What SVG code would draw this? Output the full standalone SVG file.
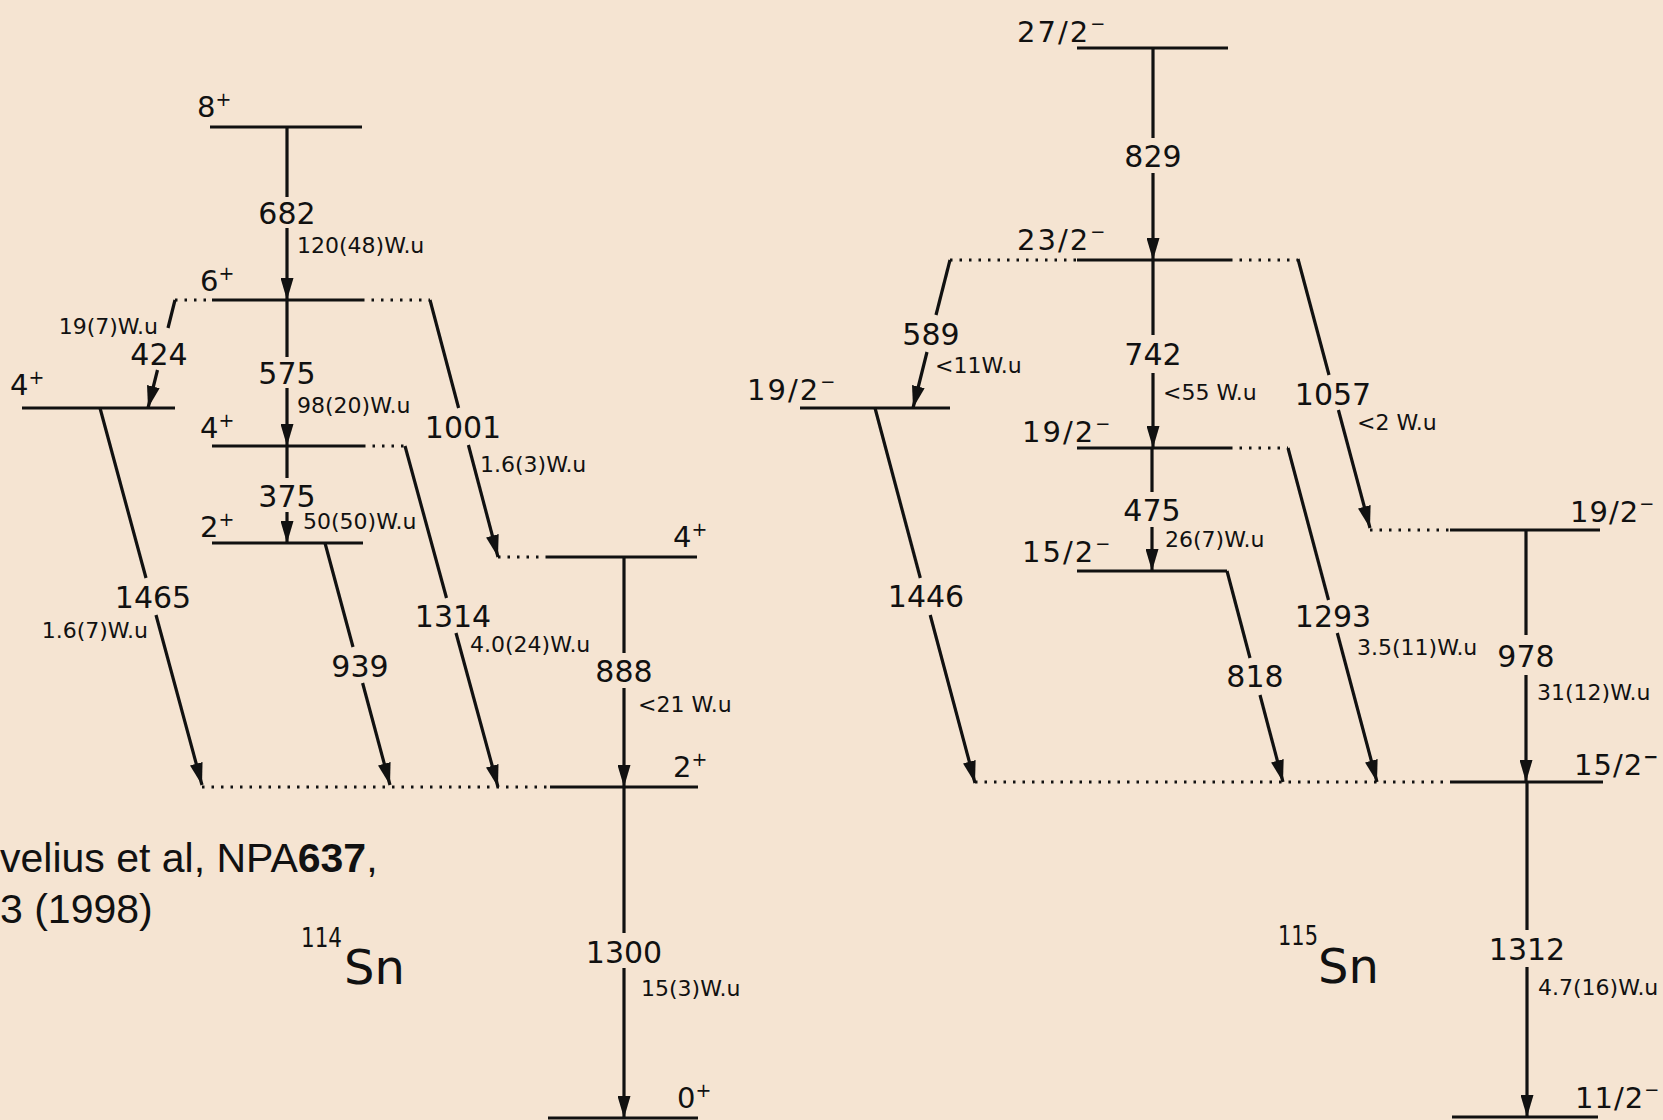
<svg xmlns="http://www.w3.org/2000/svg" width="1663" height="1120" viewBox="0 0 1663 1120">
<style>
.lv{stroke:#111;stroke-width:2.8;fill:none}
.dt{stroke:#111;stroke-width:2.8;fill:none;stroke-dasharray:2.5 7}
.ar{stroke:#111;stroke-width:3.2;fill:none}
.lab{font-family:"DejaVu Sans",sans-serif;font-size:29px;fill:#111}
.big{font-family:"DejaVu Sans",sans-serif;font-size:30px;fill:#111;text-anchor:middle}
.sm{font-family:"DejaVu Sans",sans-serif;font-size:22px;fill:#111}
.sp{letter-spacing:2px}
.sp1{letter-spacing:1px}
.sup{font-family:"DejaVu Sans",sans-serif;font-size:27px;fill:#111}
.sn{font-family:"DejaVu Sans",sans-serif;font-size:48px;fill:#111}
.cit{font-family:"Liberation Sans",Arial,sans-serif;font-size:41px;fill:#111}
</style>
<defs>
<marker id="ah" markerUnits="userSpaceOnUse" viewBox="0 0 22 13" refX="22" refY="6.5" markerWidth="22" markerHeight="13" orient="auto">
<path d="M0,0 L22,6.5 L0,13 Z" fill="#111"/>
</marker>
</defs>
<rect width="1663" height="1120" fill="#F5E4D2"/>

<!-- 114Sn levels -->
<g id="sn114-8plus"><line class="lv" x1="210" y1="127" x2="362" y2="127"/><text class="lab" x="197" y="117">8<tspan dy="-11" font-size="19">+</tspan></text></g>
<g id="sn114-6plus"><line class="dt" x1="175" y1="300" x2="212" y2="300"/><line class="lv" x1="212" y1="300" x2="362" y2="300"/><line class="dt" x1="362" y1="300" x2="430" y2="300"/><text class="lab" x="200" y="291">6<tspan dy="-11" font-size="19">+</tspan></text></g>
<g id="sn114-4plus-left"><line class="lv" x1="22" y1="408" x2="175" y2="408"/><text class="lab" x="10" y="395">4<tspan dy="-11" font-size="19">+</tspan></text></g>
<g id="sn114-4plus-mid"><line class="lv" x1="212" y1="446" x2="363" y2="446"/><line class="dt" x1="363" y1="446" x2="405" y2="446"/><text class="lab" x="200" y="438">4<tspan dy="-11" font-size="19">+</tspan></text></g>
<g id="sn114-2plus-mid"><line class="lv" x1="212" y1="543" x2="363" y2="543"/><text class="lab" x="200" y="537">2<tspan dy="-11" font-size="19">+</tspan></text></g>
<g id="sn114-4plus-right"><line class="dt" x1="498" y1="557" x2="547" y2="557"/><line class="lv" x1="547" y1="557" x2="697" y2="557"/><text class="lab" x="673" y="547">4<tspan dy="-11" font-size="19">+</tspan></text></g>
<g id="sn114-2plus"><line class="dt" x1="202" y1="787" x2="550" y2="787"/><line class="lv" x1="550" y1="787" x2="698" y2="787"/><text class="lab" x="673" y="777">2<tspan dy="-11" font-size="19">+</tspan></text></g>
<g id="sn114-0plus"><line class="lv" x1="548" y1="1118" x2="698" y2="1118"/><text class="lab" x="677" y="1108">0<tspan dy="-11" font-size="19">+</tspan></text></g>

<!-- 115Sn levels -->
<g id="sn115-27-2"><line class="lv" x1="1077" y1="48" x2="1228" y2="48"/><text class="lab sp" x="1017" y="42">27/2<tspan dy="-12" font-size="18">−</tspan></text></g>
<g id="sn115-23-2"><line class="dt" x1="950" y1="260" x2="1077" y2="260"/><line class="lv" x1="1077" y1="260" x2="1230" y2="260"/><line class="dt" x1="1230" y1="260" x2="1298" y2="260"/><text class="lab sp" x="1017" y="250">23/2<tspan dy="-12" font-size="18">−</tspan></text></g>
<g id="sn115-19-2-left"><line class="lv" x1="800" y1="408" x2="950" y2="408"/><text class="lab sp" x="747" y="400">19/2<tspan dy="-12" font-size="18">−</tspan></text></g>
<g id="sn115-19-2-mid"><line class="lv" x1="1077" y1="448" x2="1230" y2="448"/><line class="dt" x1="1230" y1="448" x2="1288" y2="448"/><text class="lab sp" x="1022" y="442">19/2<tspan dy="-12" font-size="18">−</tspan></text></g>
<g id="sn115-15-2-mid"><line class="lv" x1="1077" y1="571" x2="1227" y2="571"/><text class="lab sp" x="1022" y="562">15/2<tspan dy="-12" font-size="18">−</tspan></text></g>
<g id="sn115-19-2-right"><line class="dt" x1="1370" y1="530" x2="1450" y2="530"/><line class="lv" x1="1450" y1="530" x2="1600" y2="530"/><text class="lab sp1" x="1570" y="522">19/2<tspan dy="-12" font-size="18">−</tspan></text></g>
<g id="sn115-15-2"><line class="dt" x1="975" y1="782" x2="1450" y2="782"/><line class="lv" x1="1450" y1="782" x2="1603" y2="782"/><text class="lab sp1" x="1574" y="775">15/2<tspan dy="-12" font-size="18" font-weight="bold">−</tspan></text></g>
<g id="sn115-11-2"><line class="lv" x1="1452" y1="1117" x2="1598" y2="1117"/><text class="lab sp1" x="1575" y="1108">11/2<tspan dy="-12" font-size="18">−</tspan></text></g>

<!-- connectors (gamma transitions) -->
<g id="connectors">
<!-- 114Sn -->
<line class="ar" x1="287" y1="127" x2="287" y2="197"/><line class="ar" x1="287" y1="228" x2="287" y2="300" marker-end="url(#ah)"/>
<line class="ar" x1="287" y1="300" x2="287" y2="357"/><line class="ar" x1="287" y1="388" x2="287" y2="446" marker-end="url(#ah)"/>
<line class="ar" x1="287" y1="446" x2="287" y2="478"/><line class="ar" x1="287" y1="512" x2="287" y2="543" marker-end="url(#ah)"/>
<line class="ar" x1="175" y1="300" x2="168" y2="328"/><line class="ar" x1="157.5" y1="370" x2="148" y2="408" marker-end="url(#ah)"/>
<line class="ar" x1="100" y1="408" x2="146" y2="578"/><line class="ar" x1="156" y1="615" x2="202" y2="785" marker-end="url(#ah)"/>
<line class="ar" x1="325" y1="543" x2="353" y2="647"/><line class="ar" x1="362.6" y1="683" x2="390" y2="785" marker-end="url(#ah)"/>
<line class="ar" x1="430" y1="300" x2="458.6" y2="408"/><line class="ar" x1="468.4" y1="445" x2="498" y2="557" marker-end="url(#ah)"/>
<line class="ar" x1="405" y1="446" x2="446.5" y2="598"/><line class="ar" x1="456" y1="633" x2="498" y2="787" marker-end="url(#ah)"/>
<line class="ar" x1="624" y1="557" x2="624" y2="653"/><line class="ar" x1="624" y1="688" x2="624" y2="787" marker-end="url(#ah)"/>
<line class="ar" x1="624" y1="787" x2="624" y2="933"/><line class="ar" x1="624" y1="968" x2="624" y2="1118" marker-end="url(#ah)"/>
<!-- 115Sn -->
<line class="ar" x1="1153" y1="48" x2="1153" y2="138"/><line class="ar" x1="1153" y1="173" x2="1153" y2="260" marker-end="url(#ah)"/>
<line class="ar" x1="1153" y1="260" x2="1153" y2="335"/><line class="ar" x1="1153" y1="373" x2="1153" y2="448" marker-end="url(#ah)"/>
<line class="ar" x1="1152" y1="448" x2="1152" y2="492"/><line class="ar" x1="1152" y1="527" x2="1152" y2="571" marker-end="url(#ah)"/>
<line class="ar" x1="950" y1="260" x2="936" y2="315"/><line class="ar" x1="927" y1="352" x2="913" y2="408" marker-end="url(#ah)"/>
<line class="ar" x1="1298" y1="259" x2="1329" y2="375"/><line class="ar" x1="1338.4" y1="410" x2="1370" y2="528" marker-end="url(#ah)"/>
<line class="ar" x1="875" y1="408" x2="920.3" y2="578"/><line class="ar" x1="930.2" y1="615" x2="975" y2="783" marker-end="url(#ah)"/>
<line class="ar" x1="1227" y1="571" x2="1250" y2="658"/><line class="ar" x1="1260" y1="695" x2="1283" y2="782" marker-end="url(#ah)"/>
<line class="ar" x1="1288" y1="448" x2="1328.5" y2="600"/><line class="ar" x1="1337.3" y1="633" x2="1377" y2="782" marker-end="url(#ah)"/>
<line class="ar" x1="1526" y1="530" x2="1526" y2="635"/><line class="ar" x1="1526" y1="675" x2="1526" y2="782" marker-end="url(#ah)"/>
<line class="ar" x1="1527" y1="782" x2="1527" y2="930"/><line class="ar" x1="1527" y1="967" x2="1527" y2="1117" marker-end="url(#ah)"/>
</g>

<g id="transition-labels">
<text class="big" x="287" y="224">682</text><text class="sm" x="297" y="253">120(48)W.u</text>
<text class="big" x="287" y="384">575</text><text class="sm" x="297" y="413">98(20)W.u</text>
<text class="big" x="287" y="507">375</text><text class="sm" x="303" y="529">50(50)W.u</text>
<text class="big" x="159" y="365">424</text><text class="sm" x="158" y="334" text-anchor="end">19(7)W.u</text>
<text class="big" x="153" y="608">1465</text><text class="sm" x="148" y="638" text-anchor="end">1.6(7)W.u</text>
<text class="big" x="360" y="677">939</text>
<text class="big" x="463" y="438">1001</text><text class="sm" x="480" y="472">1.6(3)W.u</text>
<text class="big" x="453" y="627">1314</text><text class="sm" x="470" y="652">4.0(24)W.u</text>
<text class="big" x="624" y="682">888</text><text class="sm" x="638" y="712">&lt;21 W.u</text>
<text class="big" x="624" y="963">1300</text><text class="sm" x="641" y="996">15(3)W.u</text>

<text class="big" x="1153" y="167">829</text>
<text class="big" x="1153" y="365">742</text><text class="sm" x="1163" y="400">&lt;55 W.u</text>
<text class="big" x="1152" y="521">475</text><text class="sm" x="1165" y="547">26(7)W.u</text>
<text class="big" x="931" y="345">589</text><text class="sm" x="935" y="373">&lt;11W.u</text>
<text class="big" x="1333" y="405">1057</text><text class="sm" x="1357" y="430">&lt;2 W.u</text>
<text class="big" x="926" y="607">1446</text>
<text class="big" x="1255" y="687">818</text>
<text class="big" x="1333" y="627">1293</text><text class="sm" x="1357" y="655">3.5(11)W.u</text>
<text class="big" x="1526" y="667">978</text><text class="sm" x="1537" y="700">31(12)W.u</text>
<text class="big" x="1527" y="960">1312</text><text class="sm" x="1538" y="995">4.7(16)W.u</text>
</g>

<g id="isotope-114">
<text class="sup" x="301" y="947" textLength="41" lengthAdjust="spacingAndGlyphs">114</text>
<text class="sn" x="344" y="984">Sn</text>
</g>
<g id="isotope-115">
<text class="sup" x="1278" y="945" textLength="40" lengthAdjust="spacingAndGlyphs">115</text>
<text class="sn" x="1318" y="983">Sn</text>
</g>

<g id="citation">
<text class="cit" x="0" y="872">velius et al, NPA<tspan font-weight="bold">637</tspan>,</text>
<text class="cit" x="0" y="923">3 (1998)</text>
</g>
</svg>
